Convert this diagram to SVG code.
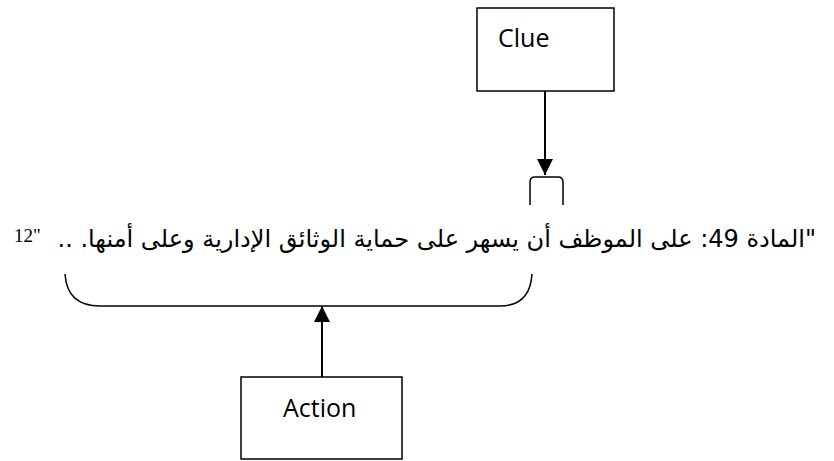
<svg xmlns="http://www.w3.org/2000/svg" width="834" height="461" viewBox="0 0 834 461">
  <style>
    .box { fill: #ffffff; stroke: #000000; stroke-width: 1.5; }
    .lbl { font-family: "Open Sans", "Liberation Sans", sans-serif; font-size: 25px; fill: #000000; }
    .line { fill: none; stroke: #000000; stroke-width: 2; }
    .brace { fill: none; stroke: #000000; stroke-width: 1.5; }
    .ar { font-family: "DejaVu Sans", "Liberation Sans", sans-serif; font-size: 24px; fill: #000000; }
    .sup { font-family: "Liberation Serif", serif; font-size: 19px; fill: #000000; }
  </style>
  <defs>
    <marker id="head" viewBox="0 0 16 16" refX="16" refY="8" markerWidth="16" markerHeight="16" markerUnits="userSpaceOnUse" orient="auto">
      <path d="M0,0 L16,8 L0,16 Z" fill="#000000"/>
    </marker>
  </defs>

  <g id="clue">
    <rect class="box" x="477" y="8" width="137" height="83"/>
    <text class="lbl" x="498" y="47">Clue</text>
  </g>

  <g id="action">
    <rect class="box" x="241" y="377" width="161" height="82"/>
    <text class="lbl" x="283" y="417">Action</text>
  </g>

  <g id="quote">
    <text class="ar" x="816" y="247" direction="rtl" text-anchor="start">"المادة 49: على الموظف أن يسهر على حماية الوثائق الإدارية وعلى أمنها. ..</text>
    <text class="sup" x="14" y="242">12"</text>
    <!-- opening bracket above the clue target -->
    <path class="brace" d="M530,205 V182 Q530,177 535,177 H558 Q563,177 563,182 V205"/>
    <!-- brace under the quoted passage -->
    <path class="brace" d="M65,274 Q67,306 100,306 H500 Q530,306 532,274"/>
  </g>

  <g id="connectors">
    <line class="line" x1="545" y1="91" x2="545" y2="175" marker-end="url(#head)"/>
    <line class="line" x1="322" y1="377" x2="322" y2="306" marker-end="url(#head)"/>
  </g>
</svg>
